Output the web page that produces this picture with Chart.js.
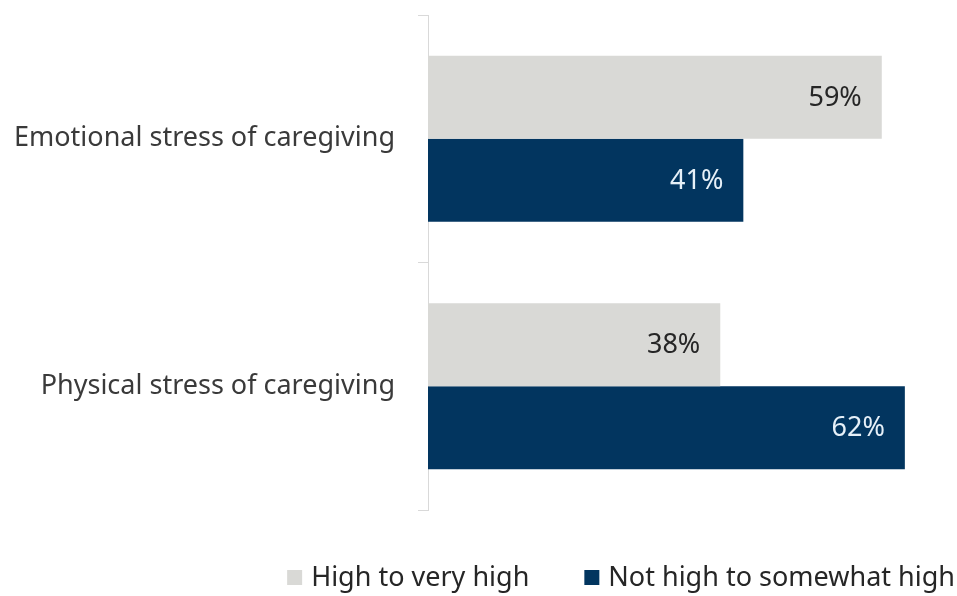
<!DOCTYPE html>
<html>
<head>
<meta charset="utf-8">
<script src="https://cdn.jsdelivr.net/npm/chart.js@4.4.1/dist/chart.umd.min.js"></script>
<style>
  html, body { margin: 0; padding: 0; background: #fff; }
  #wrap { width: 957px; height: 596px; }
</style>
</head>
<body>
<div id="wrap"><canvas id="chart"></canvas></div>
<script>
const categories = ['Emotional stress of caregiving', 'Physical stress of caregiving'];
const highValues = [59, 38];
const notHighValues = [41, 62];
const seriesNames = ['High to very high', 'Not high to somewhat high'];

const FONT = '"Noto Sans", sans-serif';
const FONT_SIZE = 27;

// value labels drawn near the end of each bar
const barLabels = {
    id: 'barLabels',
    afterDatasetsDraw(chart) {
        const ctx = chart.ctx;
        ctx.save();
        ctx.font = FONT_SIZE + 'px ' + FONT;
        ctx.textAlign = 'right';
        ctx.textBaseline = 'middle';
        chart.data.datasets.forEach((ds, i) => {
            chart.getDatasetMeta(i).data.forEach((bar, j) => {
                ctx.fillStyle = ds.labelColor;
                ctx.fillText(ds.data[j] + '%', bar.x - 20, bar.y + 1);
            });
        });
        ctx.restore();
    }
};

// legend at the bottom right, laid out from the right edge
const bottomLegend = {
    id: 'bottomLegend',
    afterDraw(chart) {
        const ctx = chart.ctx;
        const y = 578;
        ctx.save();
        ctx.font = FONT_SIZE + 'px ' + FONT;
        ctx.textBaseline = 'middle';
        ctx.textAlign = 'left';
        let right = 955;
        const items = chart.data.datasets.slice().reverse();
        items.forEach(ds => {
            const w = ctx.measureText(ds.label).width;
            const textX = right - w;
            ctx.fillStyle = ds.backgroundColor;
            ctx.fillRect(textX - 24, y - 8, 15, 15);
            ctx.fillStyle = '#262626';
            ctx.fillText(ds.label, textX, y);
            right = textX - 24 - 55;
        });
        ctx.restore();
    }
};

const ctx = document.querySelector('#chart');

const chart = new Chart(ctx.getContext('2d'), {
    type: 'bar',
    data: {
        labels: categories,
        datasets: [
            {
                label: seriesNames[0],
                data: highValues,
                backgroundColor: '#d9d9d6',
                labelColor: '#262626',
                categoryPercentage: 0.67,
                barPercentage: 1.0
            },
            {
                label: seriesNames[1],
                data: notHighValues,
                backgroundColor: '#02355f',
                labelColor: '#e6f0f8',
                categoryPercentage: 0.67,
                barPercentage: 1.0
            }
        ]
    },
    options: {
        indexAxis: 'y',
        responsive: true,
        maintainAspectRatio: false,
        animation: false,
        layout: {
            padding: { top: 15, right: 6, bottom: 86, left: 0 }
        },
        scales: {
            x: {
                display: false,
                min: 0,
                max: 68
            },
            y: {
                afterFit: function(scale) {
                    scale.width = 428;
                    scale.paddingTop = 0;
                    scale.paddingBottom = 0;
                },
                grid: {
                    drawOnChartArea: false,
                    drawTicks: true,
                    tickLength: 10,
                    color: '#d9d9d9'
                },
                border: { color: '#d9d9d9', width: 1 },
                ticks: {
                    padding: 23,
                    color: '#3a3a3a',
                    font: { family: FONT, size: FONT_SIZE }
                }
            }
        },
        plugins: {
            legend: { display: false },
            tooltip: { enabled: false }
        }
    },
    plugins: [barLabels, bottomLegend]
});
</script>
</body>
</html>
